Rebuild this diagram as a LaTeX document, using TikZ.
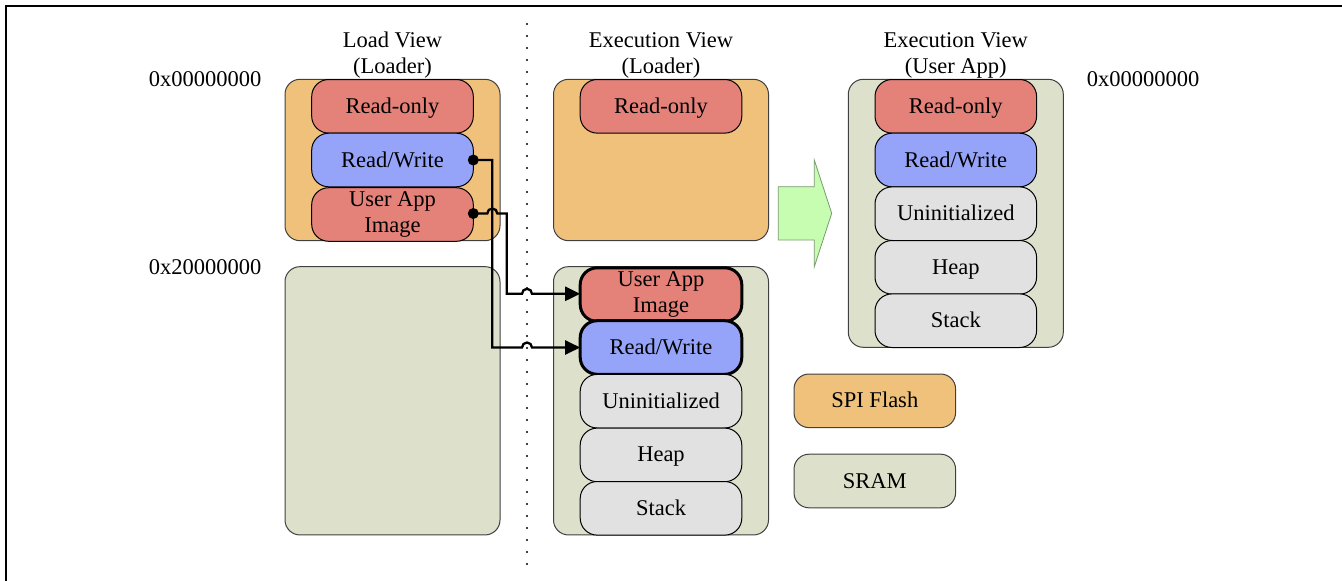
\documentclass[tikz,border=0pt]{standalone}
\usepackage{fontspec}
\setmainfont{Liberation Serif}
\usetikzlibrary{arrows.meta,calc}
\definecolor{flashfill}{HTML}{EFC17B}
\definecolor{sramfill}{HTML}{DDE1CB}
\definecolor{rofill}{HTML}{E4827A}
\definecolor{rwfill}{HTML}{95A4F9}
\definecolor{emptyfill}{HTML}{E1E1E1}
\definecolor{movefill}{HTML}{C6FDB0}
\definecolor{moveedge}{HTML}{7A9A70}
\begin{document}
\begin{tikzpicture}[x=1pt,y=-1pt,
  every node/.style={font=\fontsize{22.5}{26}\selectfont, inner sep=0pt, outer sep=0pt},
  one/.style={text height=19pt, text depth=5pt},
  region/.style={draw=black!75, line width=1pt, rounded corners=15pt, minimum width=215pt},
  flash/.style={region, fill=flashfill, minimum height=161.4pt},
  sram/.style={region, fill=sramfill},
  seg/.style={draw=black, line width=1pt, rounded corners=17pt, minimum width=161.6pt,
              minimum height=53.6pt, align=center},
  ro/.style={seg, fill=rofill},
  rw/.style={seg, fill=rwfill},
  blank/.style={seg, fill=emptyfill},
  copied/.style={line width=3pt},
  legendbox/.style={draw=black!75, line width=1pt, rounded corners=15pt,
                    minimum width=161.6pt, minimum height=53.6pt, one},
  conn/.style={line width=2.3pt, -{Triangle[length=15pt,width=14pt]}},
  hop/.style={start angle=180, end angle=0, radius=5pt},
  divider/.style={line width=2.2pt, dash pattern=on 0pt off 12pt, line cap=round}
]
\useasboundingbox (0,0) rectangle (1342,581);

% frame
\draw[line width=2.5pt] (6,581) -- (6,6) -- (1342,6);

% column headings
\node[align=center] (hload) at (392.5,55) {Load View\\(Loader)};
\node[align=center] (hexl) at (661,55) {Execution View\\(Loader)};
\node[align=center] (hexu) at (955.8,55) {Execution View\\(User App)};

% addresses
\node (addrA) at (205,79) {0x00000000};
\node (addrB) at (205,267) {0x20000000};
\node (addrC) at (1143,79) {0x00000000};

% dotted divider between load view and execution view
\coordinate (dtop) at (527,24);
\coordinate (dbot) at (527,568);
\draw[divider] (dtop) -- (dbot);

% load view (loader)
\node[flash] (lflash) at (392.5,160) {};
\node[sram, minimum height=268.3pt] (lsram) at (392.5,400.8) {};
\node[ro, one] (lro) at (392.5,106.3) {Read-only};
\node[rw, one] (lrw) at (392.5,160) {Read/Write};
\node[ro] (lapp) at (392.5,214.5) {User App\\Image};

% execution view (loader)
\node[flash] (eflash) at (661,160) {};
\node[sram, minimum height=268.3pt] (esram) at (661,400.8) {};
\node[ro, one] (ero) at (661,106.3) {Read-only};
\node[ro, copied] (eapp) at (661,294.6) {User App\\Image};
\node[rw, copied, one] (erw) at (661,347.5) {Read/Write};
\node[blank, one] (eun) at (661,401.2) {Uninitialized};
\node[blank, one] (ehp) at (661,454.9) {Heap};
\node[blank, one] (est) at (661,508.3) {Stack};

% execution view (user app)
\node[sram, minimum height=268pt] (usram) at (955.8,213.3) {};
\node[ro, one] (uro) at (955.8,106.3) {Read-only};
\node[rw, one] (urw) at (955.8,160) {Read/Write};
\node[blank, one] (uun) at (955.8,213.7) {Uninitialized};
\node[blank, one] (uhp) at (955.8,267.3) {Heap};
\node[blank, one] (ust) at (955.8,320.7) {Stack};

% hand-over arrow
\draw[fill=movefill, draw=moveedge, line width=0.8pt]
  (778.3,186.7) -- (814.3,186.7) -- (814.3,160) -- (831.7,213.3)
  -- (814.3,266.7) -- (814.3,240) -- (778.3,240) -- cycle;

% legend
\node[legendbox, fill=flashfill] (legflash) at (874.8,400.8) {SPI Flash};
\node[legendbox, fill=sramfill] (legsram) at (874.8,481) {SRAM};

% copy connectors
\coordinate (xa) at (492.3,0);
\coordinate (xb) at (506.7,0);
\coordinate (ya) at (0,213.5);
\coordinate (yb) at (0,293.8);
\draw[conn] (lrw.east) -- (lrw.east -| xa) -- (erw.west -| xa)
  -- ($(erw.west -| dtop)+(-5,0)$) arc[hop] -- (erw.west);
\draw[conn] (lapp.east |- ya) -- ($(xa |- ya)+(-5,0)$) arc[hop]
  -- (xb |- ya) -- (xb |- yb)
  -- ($(dtop |- yb)+(-5,0)$) arc[hop] -- (eapp.west |- yb);
\fill (lrw.east) circle[radius=5.5pt];
\fill (lapp.east |- ya) circle[radius=5.5pt];
\end{tikzpicture}
\end{document}
